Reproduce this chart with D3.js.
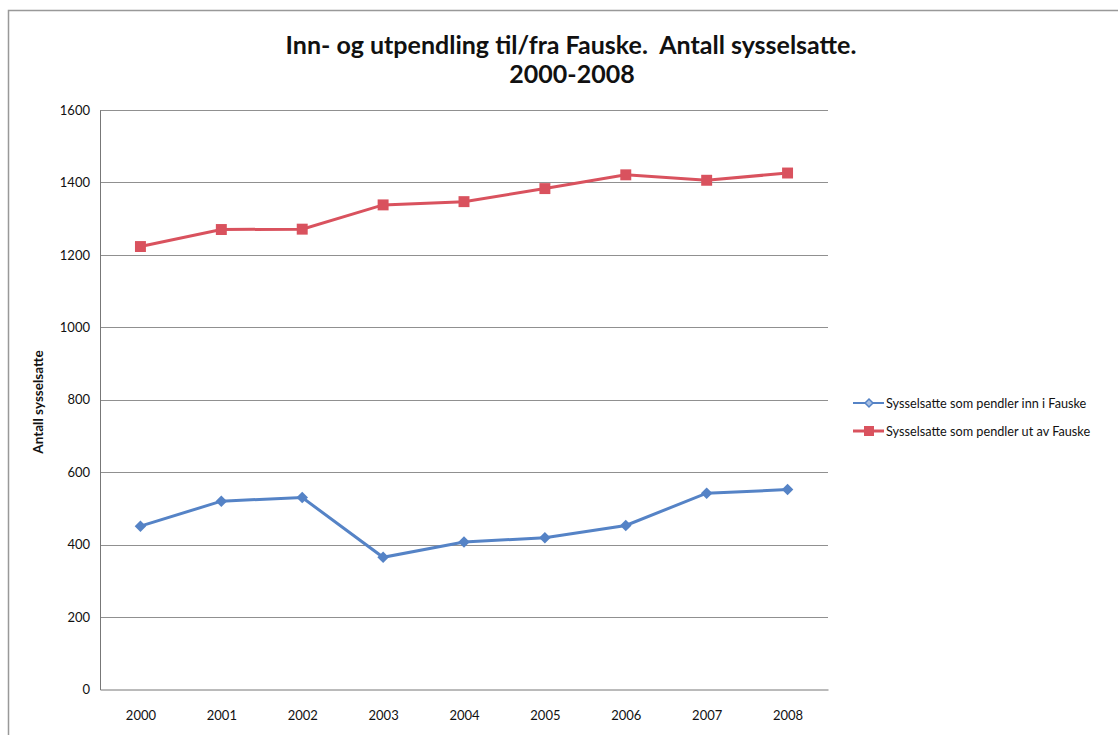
<!DOCTYPE html>
<html lang="no">
<head>
    <meta charset="UTF-8">
    <title>Inn- og utpendling</title>
    <script src="https://cdn.jsdelivr.net/npm/d3@7/dist/d3.min.js"></script>
    <style>
        body { margin: 0; background: #fff; }
        text { font-family: Lato, "Open Sans", sans-serif; fill: #111; white-space: pre; }
    </style>
</head>
<body>
<script>

    var years = ['2000', '2001', '2002', '2003', '2004', '2005', '2006', '2007', '2008'];
    var innPendling = [451, 520, 530, 365, 407, 419, 453, 542, 552];
    var utPendling = [1223, 1270, 1271, 1338, 1347, 1383, 1421, 1406, 1426];
    var yTicks = [0, 200, 400, 600, 800, 1000, 1200, 1400, 1600];
    var seriesNames = ['Sysselsatte som pendler inn i Fauske', 'Sysselsatte som pendler ut av Fauske'];

    var width = 1118;
    var height = 735;
    var plotLeft = 100, plotRight = 828, plotTop = 110, plotBottom = 689.5;

    var blue = '#5583c6';
    var red = '#d9525e';

    var svg = d3.select('body')
        .append('svg')
        .attr('width', width)
        .attr('height', height)

    // ramme fra skannet side
    svg.append('path')
        .attr('d', 'M8.5,735 L8.5,10.5 L1118,10.5')
        .attr('fill', 'none')
        .attr('stroke', '#999')
        .attr('stroke-width', 1.5);

    var x = d3.scalePoint()
        .domain(years)
        .range([plotLeft, plotRight])
        .padding(0.5)

    var y = d3.scaleLinear()
        .domain([0, 1600])
        .range([plotBottom, plotTop])

    // rutenett
    svg.append('g')
        .selectAll('line')
        .data(yTicks.slice(1))
        .enter()
        .append('line')
        .attr('x1', plotLeft)
        .attr('x2', plotRight)
        .attr('y1', function (d) { return Math.round(y(d)) + 0.5; })
        .attr('y2', function (d) { return Math.round(y(d)) + 0.5; })
        .attr('stroke', '#909090')
        .attr('stroke-width', 1);

    var yAxis = d3.axisLeft(y)
        .tickValues(yTicks)
        .tickFormat(d3.format('d'))
        .tickSize(0)
        .tickPadding(10)

    var gy = svg.append('g')
        .attr('transform', 'translate(' + plotLeft + ',0)')
        .call(yAxis);
    gy.select('.domain').attr('stroke', '#777');
    gy.selectAll('text').style('font-size', '13px').attr('fill', '#111');

    var xAxis = d3.axisBottom(x)
        .tickSize(0)
        .tickPadding(21)

    var gx = svg.append('g')
        .attr('transform', 'translate(0,' + plotBottom + ')')
        .call(xAxis);
    gx.select('.domain').attr('stroke', '#777');
    gx.selectAll('text').style('font-size', '13px').attr('fill', '#111');

    // tittel
    svg.append('text')
        .attr('x', 571)
        .attr('y', 54)
        .attr('text-anchor', 'middle')
        .style('font-size', '25px')
        .style('font-weight', 'bold')
        .text('Inn- og utpendling til/fra Fauske.  Antall sysselsatte.');
    svg.append('text')
        .attr('x', 572)
        .attr('y', 83)
        .attr('text-anchor', 'middle')
        .style('font-size', '25px')
        .style('font-weight', 'bold')
        .text('2000-2008');

    svg.append('text')
        .attr('transform', 'translate(43,402) rotate(-90)')
        .attr('text-anchor', 'middle')
        .style('font-size', '13.5px')
        .style('font-weight', 'bold')
        .text('Antall sysselsatte');

    var line = d3.line()
        .x(function (d, i) { return x(years[i]); })
        .y(function (d) { return y(d); })

    svg.append('path')
        .attr('d', line(innPendling))
        .attr('fill', 'none')
        .attr('stroke', blue)
        .attr('stroke-width', 3);

    svg.append('path')
        .attr('d', line(utPendling))
        .attr('fill', 'none')
        .attr('stroke', red)
        .attr('stroke-width', 3);

    var diamond = d3.symbol().type(d3.symbolDiamond2).size(85);
    var square = d3.symbol().type(d3.symbolSquare).size(120);

    svg.selectAll('.inn')
        .data(innPendling)
        .enter()
        .append('path')
        .attr('class', 'inn')
        .attr('d', diamond)
        .attr('transform', function (d, i) {
            return 'translate(' + x(years[i]) + ',' + y(d) + ')';
        })
        .attr('fill', blue);

    svg.selectAll('.ut')
        .data(utPendling)
        .enter()
        .append('path')
        .attr('class', 'ut')
        .attr('d', square)
        .attr('transform', function (d, i) {
            return 'translate(' + x(years[i]) + ',' + y(d) + ')';
        })
        .attr('fill', red);

    // legende
    var legend = svg.append('g')
        .attr('transform', 'translate(853,403)');

    legend.append('line')
        .attr('x1', 0).attr('x2', 31).attr('y1', 0).attr('y2', 0)
        .attr('stroke', blue).attr('stroke-width', 2);
    legend.append('path')
        .attr('d', d3.symbol().type(d3.symbolDiamond2).size(40))
        .attr('transform', 'translate(16,0)')
        .attr('fill', '#a9c0e3').attr('stroke', blue).attr('stroke-width', 1.5);
    legend.append('line')
        .attr('x1', 0).attr('x2', 31).attr('y1', 28).attr('y2', 28)
        .attr('stroke', red).attr('stroke-width', 3);
    legend.append('path')
        .attr('d', d3.symbol().type(d3.symbolSquare).size(100))
        .attr('transform', 'translate(16,28)')
        .attr('fill', red);

    legend.selectAll('.lt')
        .data(seriesNames)
        .enter()
        .append('text')
        .attr('class', 'lt')
        .attr('x', 33)
        .attr('y', function (d, i) { return i * 28 + 4.5; })
        .style('font-size', '12.7px')
        .text(function (d) { return d; });

</script>
</body>
</html>
